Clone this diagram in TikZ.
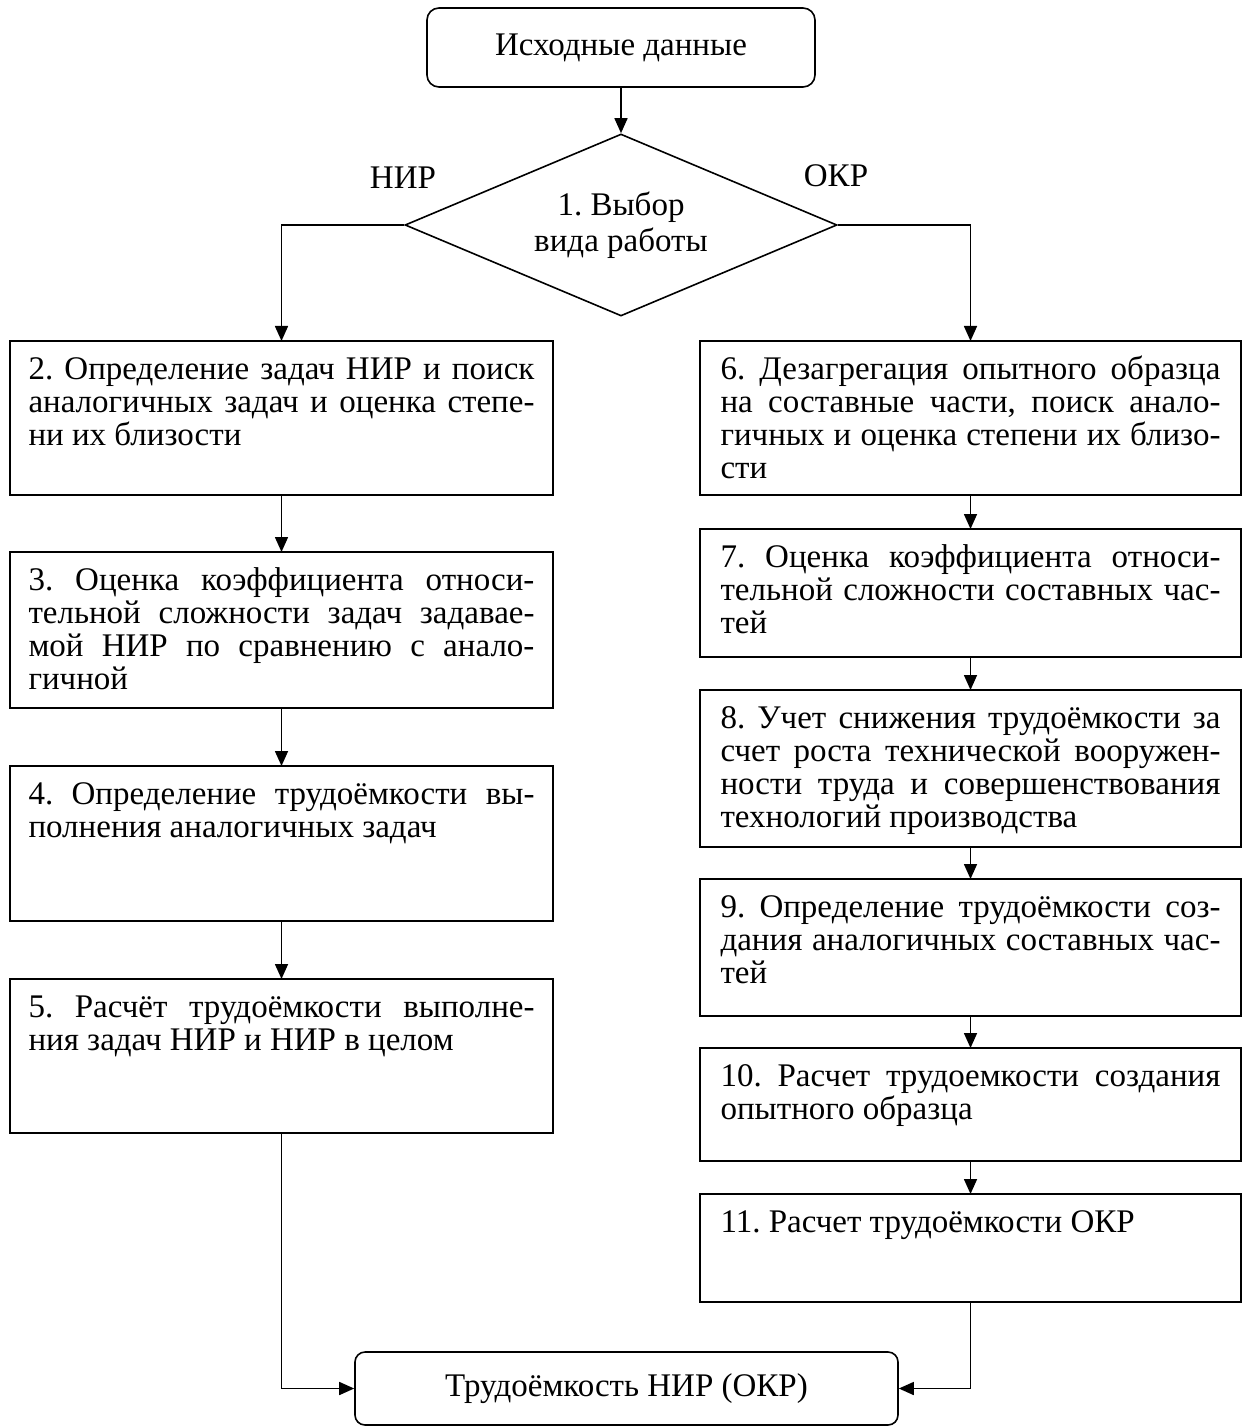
\documentclass[tikz,border=0pt]{standalone}
\usepackage{fontspec}
\setmainfont{Liberation Serif}
\usetikzlibrary{shapes.geometric,arrows.meta}
\frenchspacing
\newcommand\jline[1]{\hbox to\hsize{\strut #1}}
\newcommand\lline[1]{\hbox to\hsize{\strut #1\hfil}}
\newcommand\btx[3]{\vbox to #2{\hsize=#1\relax\lineskiplimit=-100pt\relax\vskip 7.5pt #3\vss}}
\begin{document}
\begin{tikzpicture}[x=0.5pt,y=-0.5pt,
  font=\fontsize{16.5}{16.5}\selectfont,
  every path/.style={line width=0.8pt},
  lbox/.style={draw, anchor=north west, inner xsep=9.25pt, inner ysep=0pt, outer sep=0pt},
  rbox/.style={draw, anchor=north west, inner xsep=10.25pt, inner ysep=0pt, outer sep=0pt},
  term/.style={draw, rounded corners=6pt, inner sep=0pt, align=center},
  arr/.style={-{Triangle[length=7.5pt,width=6.5pt]}}]
\useasboundingbox (0,0) rectangle (1242,1428);

\node[term, minimum width=194pt, minimum height=39.5pt] (top) at (621,47.5) {Исходные данные};
\node[diamond, draw, aspect=2.4, minimum width=216pt, minimum height=91pt, inner sep=0pt, align=center, font=\fontsize{16.5}{18}\selectfont] (d) at (621,225) {1. Выбор\\вида работы};
\node (nir) at (403,178) {НИР};
\node (okr) at (836,176) {ОКР};

\node[lbox] (b2) at (10,341) {\btx{253pt}{77pt}{%
 \jline{2. Определение задач НИР и поиск}%
 \jline{аналогичных задач и оценка степе-}%
 \lline{ни их близости}}};
\node[lbox] (b3) at (10,552) {\btx{253pt}{78pt}{%
 \jline{3. Оценка коэффициента относи-}%
 \jline{тельной сложности задач задавае-}%
 \jline{мой НИР по сравнению с анало-}%
 \lline{гичной}}};
\node[lbox] (b4) at (10,766) {\btx{253pt}{77.5pt}{%
 \jline{4. Определение трудоёмкости вы-}%
 \lline{полнения аналогичных задач}}};
\node[lbox] (b5) at (10,979) {\btx{253pt}{77pt}{%
 \jline{5. Расчёт трудоёмкости выполне-}%
 \lline{ния задач НИР и НИР в целом}}};

\node[rbox] (b6) at (700,341) {\btx{250pt}{77pt}{%
 \jline{6. Дезагрегация опытного образца}%
 \jline{на составные части, поиск анало-}%
 \jline{гичных и оценка степени их близо-}%
 \lline{сти}}};
\node[rbox] (b7) at (700,529) {\btx{250pt}{64pt}{%
 \jline{7. Оценка коэффициента относи-}%
 \jline{тельной сложности составных час-}%
 \lline{тей}}};
\node[rbox] (b8) at (700,690) {\btx{250pt}{78.5pt}{%
 \jline{8. Учет снижения трудоёмкости за}%
 \jline{счет роста технической вооружен-}%
 \jline{ности труда и совершенствования}%
 \lline{технологий производства}}};
\node[rbox] (b9) at (700,879) {\btx{250pt}{68.5pt}{%
 \jline{9. Определение трудоёмкости соз-}%
 \jline{дания аналогичных составных час-}%
 \lline{тей}}};
\node[rbox] (b10) at (700,1048) {\btx{250pt}{56.5pt}{%
 \jline{10. Расчет трудоемкости создания}%
 \lline{опытного образца}}};
\node[rbox] (b11) at (700,1194) {\btx{250pt}{54pt}{%
 \lline{11. Расчет трудоёмкости ОКР}}};

\node[term, rounded corners=5pt, minimum width=271.5pt, minimum height=36.5pt] (bot) at (626.5,1388.5) {Трудоёмкость НИР (ОКР)};

\draw[arr] (top.south) -- (d.north);
\draw[arr] (d.west) -| (b2.north);
\draw[arr] (d.east) -| (b6.north);
\draw[arr] (b2.south) -- (b3.north);
\draw[arr] (b3.south) -- (b4.north);
\draw[arr] (b4.south) -- (b5.north);
\draw[arr] (b6.south) -- (b7.north);
\draw[arr] (b7.south) -- (b8.north);
\draw[arr] (b8.south) -- (b9.north);
\draw[arr] (b9.south) -- (b10.north);
\draw[arr] (b10.south) -- (b11.north);
\draw[arr] (b5.south) |- (bot.west);
\draw[arr] (b11.south) |- (bot.east);
\end{tikzpicture}
\end{document}
